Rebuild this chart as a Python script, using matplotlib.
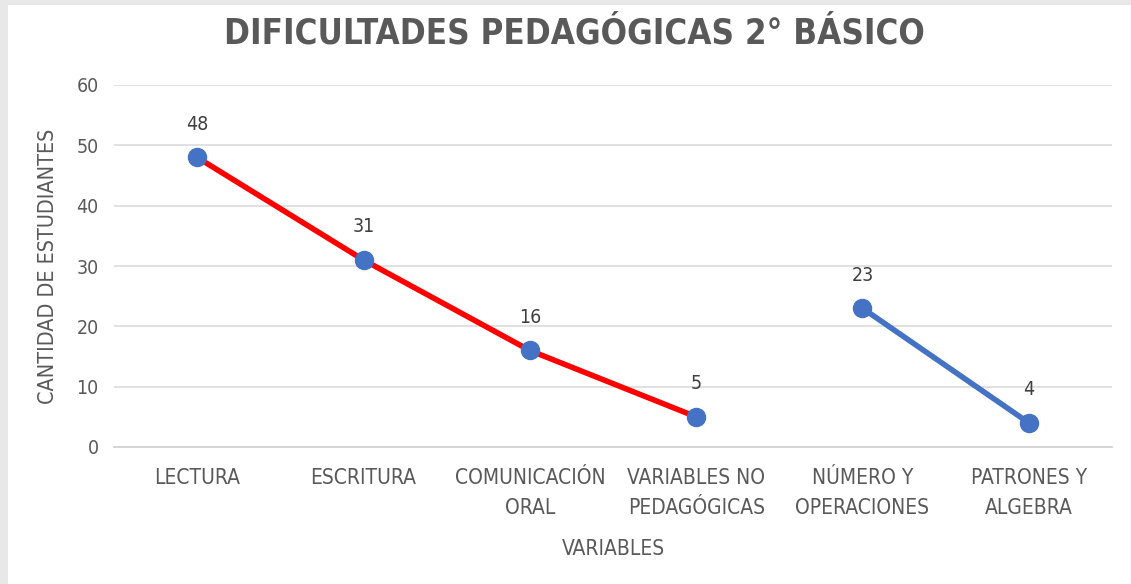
import matplotlib
matplotlib.use("Agg")
import matplotlib.pyplot as plt
from matplotlib.patches import Rectangle

plt.rcParams["font.family"] = ["DejaVu Sans"]
plt.rcParams["font.stretch"] = "condensed"

categorias = ["LECTURA", "ESCRITURA", "COMUNICACIÓN\nORAL", "VARIABLES NO\nPEDAGÓGICAS",
              "NÚMERO Y\nOPERACIONES", "PATRONES Y\nALGEBRA"]
lenguaje = [48, 31, 16, 5]        # primeras cuatro categorías
matematica = [23, 4]              # últimas dos
y_ticks = [0, 10, 20, 30, 40, 50, 60]

GRAY = "#595959"
BLUE = "#4472C4"
RED = "#FF0000"

W, H = 1131, 584
fig = plt.figure(figsize=(W / 100, H / 100), dpi=100)
fig.patch.set_facecolor("#e8e8e8")
fig.patches.append(Rectangle((8 / W, 0), 1, 1 - 5 / H, transform=fig.transFigure,
                             facecolor="white", edgecolor="none", zorder=-1))

ax = fig.add_axes([114 / W, 1 - 447 / H, (1112 - 114) / W, (447 - 85) / H])
ax.set_zorder(2)
ax.set_facecolor("none")

x_len = list(range(len(lenguaje)))
x_mat = list(range(len(lenguaje), len(lenguaje) + len(matematica)))

ax.plot(x_len, lenguaje, color=RED, lw=4, zorder=3, solid_capstyle="round")
ax.plot(x_mat, matematica, color=BLUE, lw=4, zorder=3, solid_capstyle="round")
ax.plot(x_len + x_mat, lenguaje + matematica, ls="none", marker="o", ms=13,
        color=BLUE, zorder=4)

for xi, v in zip(x_len + x_mat, lenguaje + matematica):
    ax.annotate(str(v), (xi, v), xytext=(0, 17), textcoords="offset points",
                ha="center", va="bottom", fontsize=14, color="#404040")

ax.set_xlim(-0.5, len(categorias) - 0.5)
ax.set_ylim(0, 60)
ax.set_yticks(y_ticks)
ax.set_xticks(range(len(categorias)))
ax.set_xticklabels(categorias, fontsize=15, color=GRAY, linespacing=1.65)
ax.tick_params(axis="y", labelsize=14, labelcolor=GRAY, length=0, pad=11)
ax.tick_params(axis="x", length=0, pad=15)

ax.grid(axis="y", color="#d9d9d9", lw=1.1)
ax.set_axisbelow(True)
for s in ["top", "right", "left"]:
    ax.spines[s].set_visible(False)
ax.spines["bottom"].set_color("#d0d0d0")
ax.spines["bottom"].set_linewidth(1.2)

ax.set_ylabel("CANTIDAD DE ESTUDIANTES", fontsize=15.5, color=GRAY, labelpad=13)
ax.set_xlabel("VARIABLES", fontsize=15, color=GRAY, labelpad=15)

fig.text(574 / W, 1 - 34 / H, "DIFICULTADES PEDAGÓGICAS 2° BÁSICO", ha="center",
         va="center", fontsize=25, fontweight="bold", color=GRAY)

fig.savefig("out.png", dpi=100)
